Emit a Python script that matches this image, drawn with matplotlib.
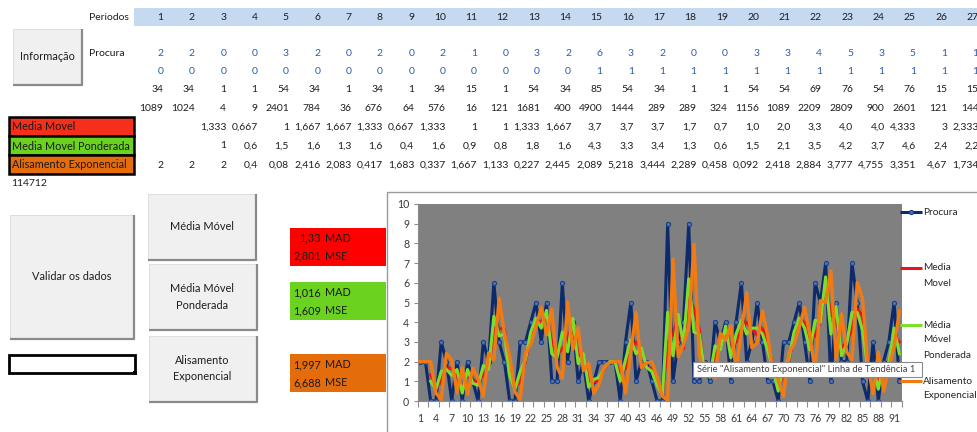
import numpy as np
import matplotlib
matplotlib.use("Agg")
import matplotlib.pyplot as plt
from matplotlib.patches import Rectangle

FONT = ["Lato", "DejaVu Sans"]
FS = 7.5

# ---- worksheet rows (periods 1..27 shown in the sheet) ----
periodos_tab = [str(i) for i in range(1, 28)]
procura_tab = ["2", "2", "0", "0", "3", "2", "0", "2", "0", "2", "1", "0", "3", "2", "6",
               "3", "2", "0", "0", "3", "3", "4", "5", "3", "5", "1", "1"]
aux_tab = ["0"] * 14 + ["1"] * 13
rand_tab = ["34", "34", "1", "1", "54", "34", "1", "34", "1", "34", "15", "1", "54", "34",
            "85", "54", "34", "1", "1", "54", "54", "69", "76", "54", "76", "15", "15"]
sq_tab = ["1089", "1024", "4", "9", "2401", "784", "36", "676", "64", "576", "16", "121",
          "1681", "400", "4900", "1444", "289", "289", "324", "1156", "1089", "2209",
          "2809", "900", "2601", "121", "144"]
mm_tab = ["", "", "1,333", "0,667", "1", "1,667", "1,667", "1,333", "0,667", "1,333", "1",
          "1", "1,333", "1,667", "3,7", "3,7", "3,7", "1,7", "0,7", "1,0", "2,0", "3,3",
          "4,0", "4,0", "4,333", "3", "2,333"]
mmp_tab = ["", "", "1", "0,6", "1,5", "1,6", "1,3", "1,6", "0,4", "1,6", "0,9", "0,8",
           "1,8", "1,6", "4,3", "3,3", "3,4", "1,3", "0,6", "1,5", "2,1", "3,5", "4,2",
           "3,7", "4,6", "2,4", "2,2"]
ae_tab = ["2", "2", "2", "0,4", "0,08", "2,416", "2,083", "0,417", "1,683", "0,337",
          "1,667", "1,133", "0,227", "2,445", "2,089", "5,218", "3,444", "2,289", "0,458",
          "0,092", "2,418", "2,884", "3,777", "4,755", "3,351", "4,67", "1,734"]

# ---- chart series (92 periods) ----
periodos = np.arange(1, 93)
procura = [2, 2, 0, 0, 3, 2, 0, 2, 0, 2, 1, 0, 3, 2, 6, 3, 2, 0, 0, 3,
           3, 4, 5, 3, 5, 1, 1, 6, 2, 4, 1, 2, 0, 1, 2, 2, 2, 2, 0, 3,
           5, 1, 2, 2, 1, 0, 0, 9, 1, 3, 4, 9, 1, 1, 2, 1, 4, 3, 4, 1,
           4, 6, 2, 3, 5, 3, 1, 1, 0, 3, 3, 4, 5, 3, 1, 6, 5, 7, 1, 5,
           2, 2, 7, 5, 1, 0, 3, 0, 2, 3, 5, 1]
media_movel = [1.333, 0.667, 1, 1.667, 1.667, 1.333, 0.667, 1.333, 1, 1,
               1.333, 1.667, 3.667, 3.667, 3.667, 1.667, 0.667, 1, 2, 3.333,
               4, 4, 4.333, 3, 2.333, 2.667, 3, 4, 2.333, 2.333,
               1, 1, 1, 1.667, 2, 2, 1.333, 1.667, 2.667, 3,
               2.667, 1.667, 1.667, 1, 0.333, 3, 3.333, 4.333, 2.667, 5.333,
               4.667, 3.667, 1.333, 1.333, 2.333, 2.667, 3.667, 2.667, 3, 3.667,
               4, 3.667, 3.333, 3.667, 3, 1.667, 0.667, 1.333, 2, 3.333,
               4, 4, 3, 3.333, 4, 6, 4.333, 4.333, 2.667, 3,
               3.667, 4.667, 4.333, 2, 1.333, 1, 1.667, 1.667, 3.333, 3]
media_movel_pond = [1.0, 0.6, 1.5, 1.6, 1.3, 1.6, 0.4, 1.6, 0.9, 0.8,
                    1.8, 1.6, 4.3, 3.3, 3.4, 1.3, 0.6, 1.5, 2.1, 3.5,
                    4.2, 3.7, 4.6, 2.4, 2.2, 3.5, 2.5, 4.2, 1.9, 2.4,
                    0.7, 1.1, 1.2, 1.7, 2.0, 2.0, 1.0, 2.1, 3.1, 2.4,
                    2.7, 1.7, 1.5, 0.8, 0.3, 4.5, 2.3, 4.4, 2.9, 6.2,
                    3.5, 3.4, 1.5, 1.2, 2.8, 2.6, 3.8, 2.2, 3.4, 4.1,
                    3.4, 3.7, 3.7, 3.4, 2.6, 1.6, 0.5, 1.8, 2.1, 3.5,
                    4.2, 3.7, 2.6, 4.1, 4.0, 6.3, 3.4, 4.8, 2.3, 2.9,
                    4.5, 4.5, 3.6, 1.7, 1.8, 0.6, 1.9, 1.9, 3.7, 2.4]
alisamento = [2, 2, 2, 0.4, 0.08, 2.416, 2.083, 0.417, 1.683, 0.337,
              1.667, 1.133, 0.227, 2.445, 2.089, 5.218, 3.444, 2.289, 0.458, 0.092,
              2.418, 2.884, 3.777, 4.755, 3.351, 4.670, 1.734, 1.147, 5.029, 2.606,
              3.721, 1.544, 1.909, 0.382, 0.876, 1.775, 1.955, 1.991, 1.998, 0.400,
              2.480, 4.496, 1.699, 1.940, 1.988, 1.198, 0.240, 0.048, 7.210, 2.242,
              2.848, 3.770, 7.954, 2.391, 1.278, 1.856, 1.171, 3.434, 3.087, 3.817,
              1.563, 3.513, 5.503, 2.701, 2.940, 4.588, 3.318, 1.464, 1.093, 0.219,
              2.444, 2.889, 3.778, 4.756, 3.351, 1.470, 5.094, 5.019, 6.604, 2.121,
              4.424, 2.485, 2.097, 6.019, 5.204, 1.841, 0.368, 2.474, 0.495, 1.699,
              2.740, 4.548]

# error measures per method
erros = [("1,33", "2,801"), ("1,016", "1,609"), ("1,997", "6,688")]

RED, GREEN, ORANGE = "#ff0000", "#6bd21f", "#e46c0a"
BLUE_TXT = "#2a5db0"
TXT = "#1e1e1e"

fig = plt.figure(figsize=(9.77, 4.32), dpi=100)
fig.patch.set_facecolor("white")

bg = fig.add_axes([0, 0, 1, 1])
bg.set_xlim(0, 977); bg.set_ylim(432, 0); bg.axis("off")


def txt(a, x, y, s, ha="left", color=TXT, fs=FS, **kw):
    a.text(x, y, s, ha=ha, va="center", fontsize=fs, color=color, family=FONT, **kw)


def button(a, x0, y0, x1, y1, lines, fs=7.9):
    a.add_patch(Rectangle((x0, y0), x1 - x0, y1 - y0, facecolor="#f0f0f0",
                          edgecolor="#dadada", lw=0.6))
    a.plot([x1, x1, x0], [y0, y1, y1], color="#8a8a8a", lw=1.6, solid_capstyle="butt")
    yc = (y0 + y1) / 2
    n = len(lines)
    for k, s in enumerate(lines):
        txt(a, (x0 + x1) / 2, yc + (k - (n - 1) / 2) * 16.5, s, ha="center", fs=fs)


# header band
bg.add_patch(Rectangle((134, 8.3), 850, 17.7, facecolor="#c5d9f1", edgecolor="none"))
txt(bg, 89, 17, "Periodos")
txt(bg, 89, 53.7, "Procura")

col_right = [163.5 + i * 31.35 for i in range(27)]
rows = [(periodos_tab, 17, TXT), (procura_tab, 53.7, BLUE_TXT), (aux_tab, 71.7, BLUE_TXT),
        (rand_tab, 90, TXT), (sq_tab, 108.3, TXT), (mm_tab, 127.3, TXT),
        (mmp_tab, 146, TXT), (ae_tab, 165, TXT)]
for vals, y, c in rows:
    for xr, s in zip(col_right, vals):
        txt(bg, xr, y, s, ha="right", color=c)

# method label cells
for (y0, y1, face, label) in [(117, 136, "#f4301c", "Media Movel"),
                              (136, 155, GREEN, "Media Movel Ponderada"),
                              (155, 174, ORANGE, "Alisamento Exponencial")]:
    bg.add_patch(Rectangle((8.5, y0), 125.5, y1 - y0, facecolor=face,
                           edgecolor="black", lw=1.8))
    txt(bg, 12, (y0 + y1) / 2 + 0.5, label, color="#1a1a1a", fs=7.8)
txt(bg, 11, 183.3, "114712")

button(bg, 12.5, 28.5, 81.5, 85, ["Informação"])
button(bg, 9.5, 215, 134, 339, ["Validar os dados"])
button(bg, 147.5, 194, 255.5, 260, ["Média Móvel"])
button(bg, 148.5, 264, 256.5, 330, ["Média Móvel", "Ponderada"])
button(bg, 148.5, 336, 256.5, 401.5, ["Alisamento", "Exponencial"])

# selected empty cell with fill handle
bg.add_patch(Rectangle((8.5, 354.5), 126, 18.8, facecolor="white", edgecolor="black", lw=2))
bg.add_patch(Rectangle((132.5, 371), 4, 4, facecolor="black", edgecolor="none"))

# MAD / MSE boxes
for (y0, face), (mad, mse) in zip([(227.7, RED), (282.3, GREEN), (354.3, ORANGE)], erros):
    bg.add_patch(Rectangle((290, y0), 96, 37.8, facecolor=face, edgecolor="none"))
    txt(bg, 321, y0 + 10.5, mad, ha="right", color="#1a1a1a", fs=7.8)
    txt(bg, 325, y0 + 10.5, "MAD", color="#1a1a1a", fs=7.8)
    txt(bg, 321, y0 + 28.5, mse, ha="right", color="#1a1a1a", fs=7.8)
    txt(bg, 325, y0 + 28.5, "MSE", color="#1a1a1a", fs=7.8)

# chart object frame
bg.add_patch(Rectangle((386.5, 191.5), 700, 300, facecolor="white",
                       edgecolor="#9a9a9a", lw=1.0))

# ---- the line chart ----
ax = fig.add_axes([417.5 / 977, 31 / 432, 484.5 / 977, 197 / 432])
ax.set_facecolor("#808080")
ax.plot(periodos, procura, color="#0c2b6c", lw=2.2, marker="o", ms=3.0,
        mfc="#4d72b8", mec="#1c3f88", mew=0.8, zorder=2)
ax.plot(periodos[2:], media_movel, color="#e8141b", lw=2.2, zorder=3)
ax.plot(periodos[2:], media_movel_pond, color="#7ddf2a", lw=2.2, zorder=4)
ax.plot(periodos, alisamento, color="#f27a12", lw=2.4, zorder=5)

ax.set_xlim(0.5, 92.5)
ax.set_ylim(0, 10)
ax.set_yticks(range(0, 11))
ax.set_xticks(np.arange(0.5, 93, 2))
ax.set_xticklabels([])
ax.set_xticks(periodos[::3], minor=True)
ax.set_xticklabels([str(p) for p in periodos[::3]], minor=True)
ax.tick_params(axis="x", which="major", length=4, width=0.8, color="#8c8c8c", direction="out")
ax.tick_params(axis="x", which="minor", length=0, pad=9, labelsize=7.6, labelcolor="#3a3a3a")
ax.tick_params(axis="y", length=3, width=0.8, color="#8c8c8c", pad=3,
               labelsize=7.6, labelcolor="#3a3a3a")
for lab in ax.get_xticklabels(minor=True) + ax.get_yticklabels():
    lab.set_family(FONT)
for s in ("top", "right"):
    ax.spines[s].set_visible(False)
for s in ("left", "bottom"):
    ax.spines[s].set_color("#8c8c8c")
    ax.spines[s].set_linewidth(0.8)

# ---- legend and hover tip on an overlay ----
top = fig.add_axes([0, 0, 1, 1])
top.set_xlim(0, 977); top.set_ylim(432, 0); top.axis("off")
top.patch.set_alpha(0)

legend = [(212.3, "#0c2b6c", ["Procura"], True),
          (268.0, "#e8141b", ["Media", "Movel"], False),
          (325.0, "#7ddf2a", ["Média", "Móvel", "Ponderada"], False),
          (381.0, "#f27a12", ["Alisamento", "Exponencial"], False)]
for y, c, lines, mark in legend:
    top.plot([900, 922], [y, y], color=c, lw=2.2, solid_capstyle="butt")
    if mark:
        top.plot([911], [y], marker="o", ms=3.0, mfc="#4d72b8", mec="#1c3f88", mew=0.8)
    for k, s in enumerate(lines):
        txt(top, 923, y + k * 15, s, color="#262626", fs=7.3)

top.add_patch(Rectangle((693, 361.5), 229, 15.5, facecolor="white",
                        edgecolor="#8a8a8a", lw=0.8))
txt(top, 697, 369.3, "Série \"Alisamento Exponencial\" Linha de Tendência 1",
    color="#404040", fs=6.75)

fig.savefig("out.png", dpi=100, facecolor="white")
